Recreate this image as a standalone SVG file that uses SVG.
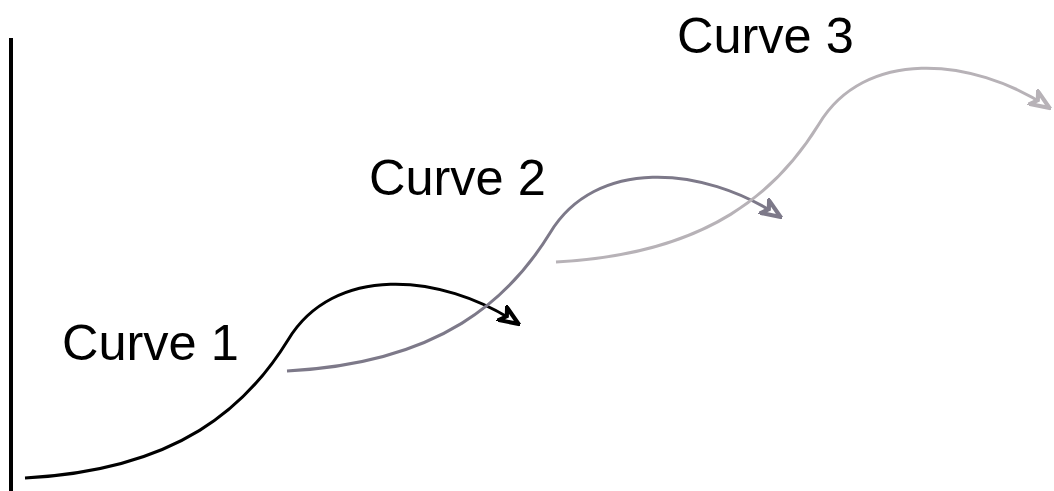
<svg xmlns="http://www.w3.org/2000/svg" width="1054" height="491" viewBox="0 0 1054 491">
<style>
.lbl{font-family:"Liberation Sans",Arial,sans-serif;font-size:50.5px;fill:#000}
.crv{fill:none;stroke-width:3}
</style>
<defs>
<marker id="a1" viewBox="0 0 12 10" refX="10" refY="5" markerWidth="7.5" markerHeight="6.25" orient="auto" markerUnits="strokeWidth"><path d="M1,1 L11,5 L1,9 L3.5,5 Z" fill="#fff" stroke="#000" stroke-width="2.2"/></marker>
<marker id="a2" viewBox="0 0 12 10" refX="10" refY="5" markerWidth="7.5" markerHeight="6.25" orient="auto" markerUnits="strokeWidth"><path d="M1,1 L11,5 L1,9 L3.5,5 Z" fill="#fff" stroke="#7d7989" stroke-width="2.2"/></marker>
<marker id="a3" viewBox="0 0 12 10" refX="10" refY="5" markerWidth="7.5" markerHeight="6.25" orient="auto" markerUnits="strokeWidth"><path d="M1,1 L11,5 L1,9 L3.5,5 Z" fill="#fff" stroke="#b7b2b7" stroke-width="2.2"/></marker>
</defs>
<g id="axis"><line x1="11" y1="38" x2="11" y2="491" stroke="#000" stroke-width="4"/></g>
<g id="connectors">
<path class="crv" d="M25,478 C180,470 248,405 288,340 C333,265 440,272 517,323" stroke="#000" marker-end="url(#a1)"/>
<path class="crv" d="M287,371 C442,363 510,298 550,233 C595,158 702,165 779,216" stroke="#7d7989" marker-end="url(#a2)"/>
<path class="crv" d="M556,262 C711,254 779,189 819,124 C864,49 971,56 1048,107" stroke="#b7b2b7" marker-end="url(#a3)"/>
</g>
<g id="label1"><text class="lbl" x="62" y="360">Curve 1</text></g>
<g id="label2"><text class="lbl" x="369" y="195">Curve 2</text></g>
<g id="label3"><text class="lbl" x="677" y="53">Curve 3</text></g>
</svg>
